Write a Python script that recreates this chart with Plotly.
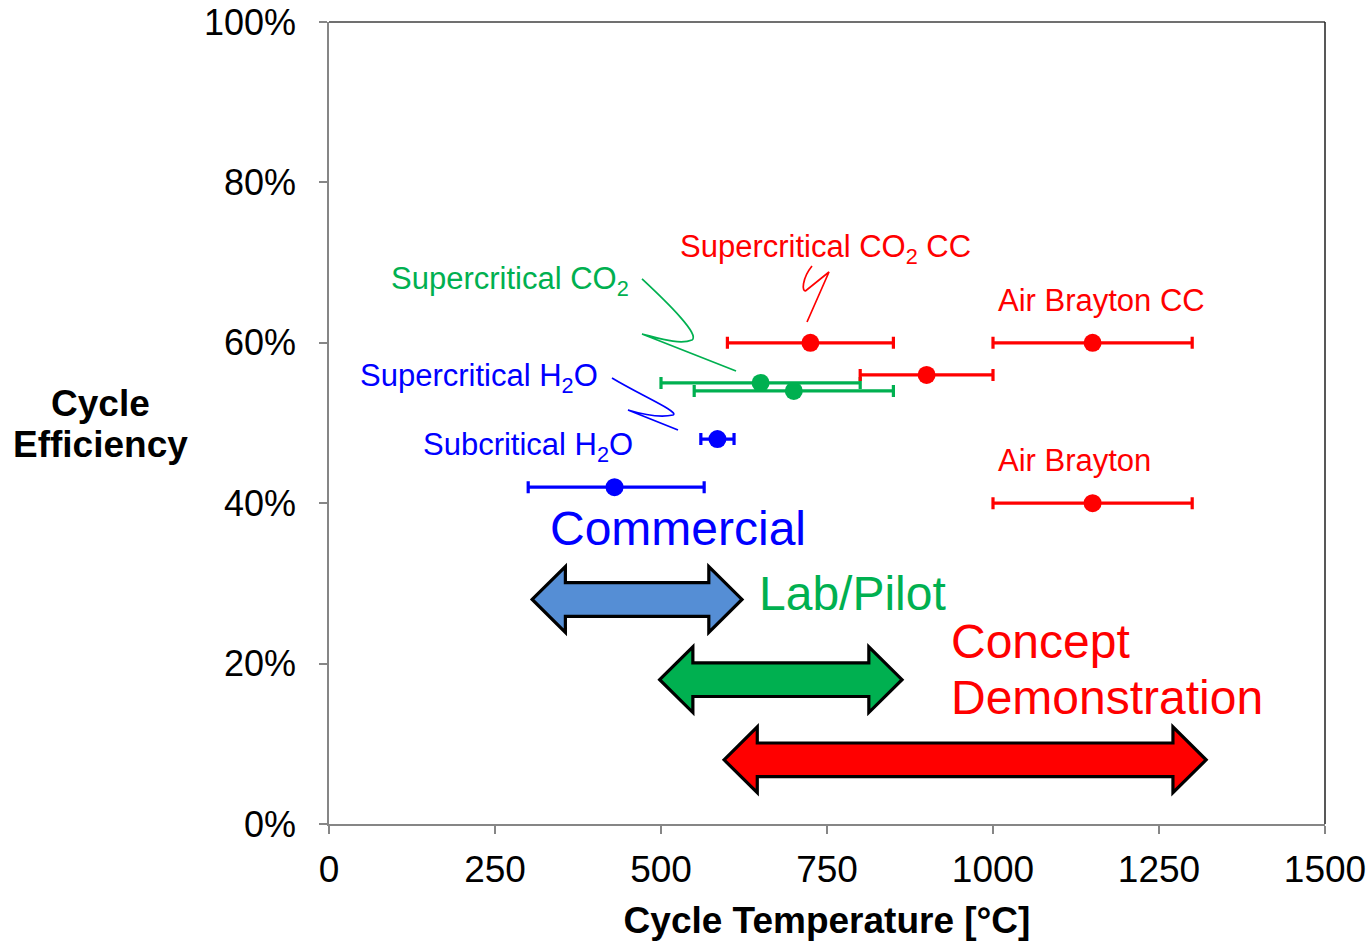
import plotly.graph_objects as go

# ---- cycle data: temperature [°C], efficiency, temperature range (minus / plus) ----
blue_temp = [585, 430]
blue_eff = [0.48, 0.42]
blue_minus = [25, 130]
blue_plus = [25, 135]

green_temp = [650, 700]
green_eff = [0.55, 0.54]
green_minus = [150, 150]
green_plus = [150, 150]

red_temp = [725, 900, 1150, 1150]
red_eff = [0.60, 0.56, 0.60, 0.40]
red_minus = [125, 100, 150, 150]
red_plus = [125, 100, 150, 150]

# ---- development stage ranges (temperature span of each double arrow) ----
stage_names = ["Commercial", "Lab/Pilot", "Concept Demonstration"]
stage_lo = [306, 498, 595]
stage_hi = [622, 863, 1321]
stage_level = [0.28, 0.18, 0.08]
stage_fill = ["#558ED5", "#00B050", "#FF0000"]

x_ticks = [0, 250, 500, 750, 1000, 1250, 1500]
y_ticks = [0, 0.2, 0.4, 0.6, 0.8, 1.0]

BLUE = "#0000FF"
GREEN = "#00B050"
RED = "#FF0000"
FONT = "Liberation Sans, Arial, sans-serif"

fig = go.Figure()


def add_series(xs, ys, minus, plus, color):
    fig.add_trace(go.Scatter(
        x=xs, y=ys, mode="markers",
        marker=dict(size=18, color=color),
        error_x=dict(type="data", symmetric=False, array=plus, arrayminus=minus,
                     color=color, thickness=3.2, width=6),
        showlegend=False, hoverinfo="skip",
    ))


add_series(blue_temp, blue_eff, blue_minus, blue_plus, BLUE)
add_series(green_temp, green_eff, green_minus, green_plus, GREEN)
add_series(red_temp, red_eff, red_minus, red_plus, RED)

# ---- double-headed block arrows ----
head_len = 50      # °C
shaft_half = 0.021
head_half = 0.041
for lo, hi, yc, fill in zip(stage_lo, stage_hi, stage_level, stage_fill):
    pts = [
        (lo, yc),
        (lo + head_len, yc + head_half),
        (lo + head_len, yc + shaft_half),
        (hi - head_len, yc + shaft_half),
        (hi - head_len, yc + head_half),
        (hi, yc),
        (hi - head_len, yc - head_half),
        (hi - head_len, yc - shaft_half),
        (lo + head_len, yc - shaft_half),
        (lo + head_len, yc - head_half),
    ]
    path = "M " + " L ".join(f"{x},{y}" for x, y in pts) + " Z"
    fig.add_shape(type="path", path=path, xref="x", yref="y",
                  fillcolor=fill, line=dict(color="black", width=3.2), layer="above")

# ---- curved leader lines from labels to points ----
leaders = [
    ("M 471.4,0.6796 C 513.6,0.6471 558.7,0.6097 546.7,0.6035 "
     "C 528.6,0.5973 500,0.605 471.4,0.6110 L 613.0,0.5648", GREEN),
    ("M 426.2,0.5561 C 468.4,0.5349 528.6,0.5137 518.1,0.5100 "
     "C 498.5,0.5062 475,0.51 450.3,0.5162 L 525.6,0.4913", BLUE),
    ("M 727.4,0.6958 C 712.0,0.6800 712.0,0.6630 718.0,0.6650 "
     "L 753.0,0.6883 L 719.9,0.6259", RED),
]
for path, color in leaders:
    fig.add_shape(type="path", path=path, xref="x", yref="y",
                  line=dict(color=color, width=1.7), fillcolor="rgba(0,0,0,0)")

# ---- plot frame (top and right edges) ----
fig.add_shape(type="line", xref="paper", yref="paper", x0=0, x1=1, y0=1, y1=1,
              line=dict(color="#404040", width=1.5))
fig.add_shape(type="line", xref="paper", yref="paper", x0=1, x1=1, y0=0, y1=1,
              line=dict(color="#202020", width=1.5))

# ---- text labels ----
labels = [
    ("Supercritical CO<sub>2</sub>", 91, 0.677, GREEN, 31),
    ("Supercritical CO<sub>2</sub> CC", 525, 0.717, RED, 31),
    ("Air Brayton CC", 1005, 0.653, RED, 31),
    ("Air Brayton", 1005, 0.453, RED, 31),
    ("Supercritical H<sub>2</sub>O", 43, 0.556, BLUE, 31),
    ("Subcritical H<sub>2</sub>O", 139, 0.470, BLUE, 31),
    ("Commercial", 330, 0.369, BLUE, 48),
    ("Lab/Pilot", 645, 0.288, GREEN, 48),
    ("Concept", 934, 0.228, RED, 48),
    ("Demonstration", 934, 0.158, RED, 48),
]
for text, x, y, color, size in labels:
    fig.add_annotation(text=text, x=x, y=y, xref="x", yref="y",
                       xanchor="left", yanchor="middle", showarrow=False,
                       font=dict(family=FONT, size=size, color=color))

# ---- axis titles ----
fig.add_annotation(text="<b>Cycle</b>", x=-0.229, y=0.524, xref="paper", yref="paper",
                   xanchor="center", yanchor="middle", showarrow=False,
                   font=dict(family=FONT, size=37, color="black"))
fig.add_annotation(text="<b>Efficiency</b>", x=-0.229, y=0.473, xref="paper", yref="paper",
                   xanchor="center", yanchor="middle", showarrow=False,
                   font=dict(family=FONT, size=37, color="black"))

fig.update_layout(
    width=1371, height=943,
    margin=dict(l=329, r=46, t=22, b=119),
    paper_bgcolor="white", plot_bgcolor="white",
    font=dict(family=FONT, color="black"),
    xaxis=dict(
        range=[0, 1500], tickvals=x_ticks, ticktext=[str(v) for v in x_ticks],
        showgrid=False, zeroline=False, automargin=False,
        showline=True, linecolor="#868686", linewidth=1.5,
        ticks="outside", ticklen=8, tickcolor="#868686", tickwidth=1.5,
        tickfont=dict(family=FONT, size=37, color="black"),
        ticklabelstandoff=4,
        title=dict(text="<b>Cycle Temperature [°C]</b>",
                   font=dict(family=FONT, size=37, color="black"), standoff=18),
    ),
    yaxis=dict(
        range=[0, 1], tickvals=y_ticks, tickformat=".0%",
        showgrid=False, zeroline=False, automargin=False,
        showline=True, linecolor="#868686", linewidth=1.5,
        ticks="outside", ticklen=8, tickcolor="#868686", tickwidth=1.5,
        tickfont=dict(family=FONT, size=36, color="black"),
        ticklabelstandoff=16,
    ),
)

fig.write_html("out.html")
